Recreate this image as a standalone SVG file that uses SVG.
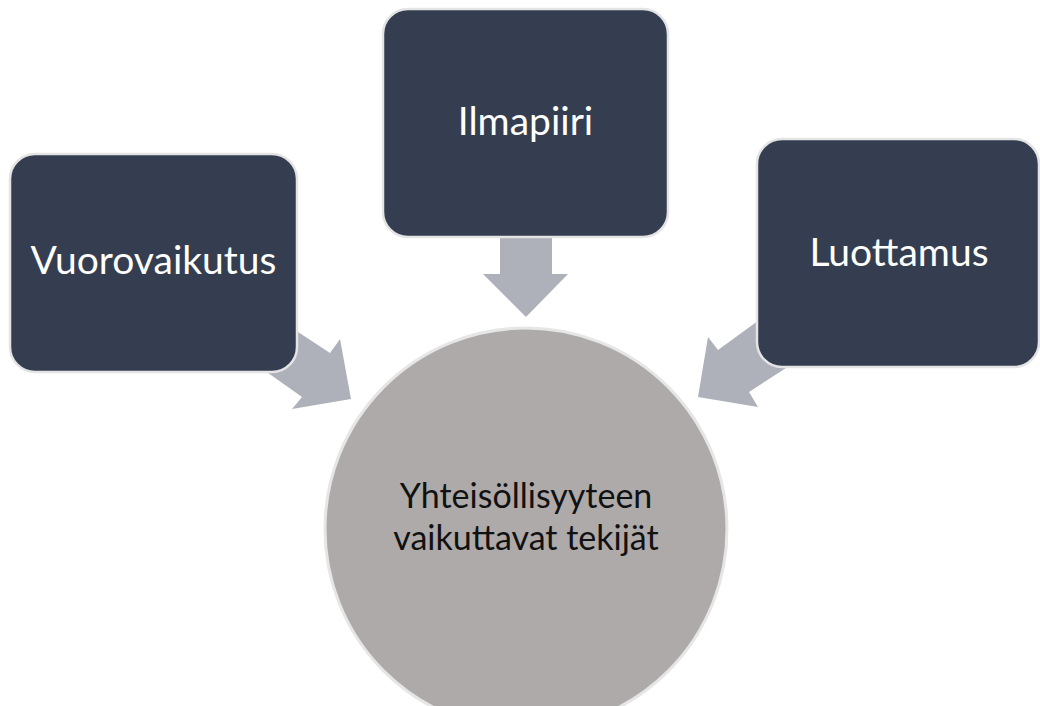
<svg xmlns="http://www.w3.org/2000/svg" width="1040" height="706" viewBox="0 0 1040 706">
<style>
.box{fill:#343e50;stroke:#e4e4e4;stroke-width:2.5}
.arrow{fill:#aeb1ba}
.btxt{font-family:Lato,"Open Sans",sans-serif;font-size:39px;fill:#ffffff;text-anchor:middle}
.ctxt{font-family:Lato,"Open Sans",sans-serif;font-size:34px;fill:#111111;text-anchor:middle}
</style>
<rect width="1040" height="706" fill="#ffffff"/>
<g id="connectors">
<polygon class="arrow" points="500,230 552,230 552,274 568,274 526,317 483,274 500,274"/>
<polygon class="arrow" points="260,307 330,353 340,339 351,399 292,409 302,397 234,349"/>
<polygon class="arrow" points="792,296 718,350 708,337 698,397 758,407 749,392 820,346"/>
</g>
<g id="node-vuorovaikutus">
<rect class="box" x="10" y="154" width="287" height="218" rx="25"/>
<text class="btxt" x="153.5" y="274">Vuorovaikutus</text>
</g>
<g id="node-ilmapiiri">
<rect class="box" x="383" y="9" width="285" height="228" rx="25"/>
<text class="btxt" x="525.5" y="135">Ilmapiiri</text>
</g>
<g id="node-luottamus">
<rect class="box" x="757" y="139" width="282" height="228" rx="25"/>
<text class="btxt" x="899" y="266">Luottamus</text>
</g>
<g id="node-center">
<circle cx="526" cy="529" r="201" fill="#aeaaaa" stroke="#e6e6e6" stroke-width="3"/>
<text class="ctxt" x="526" y="508">Yhteisöllisyyteen</text>
<text class="ctxt" x="526" y="550">vaikuttavat tekijät</text>
</g>
</svg>
